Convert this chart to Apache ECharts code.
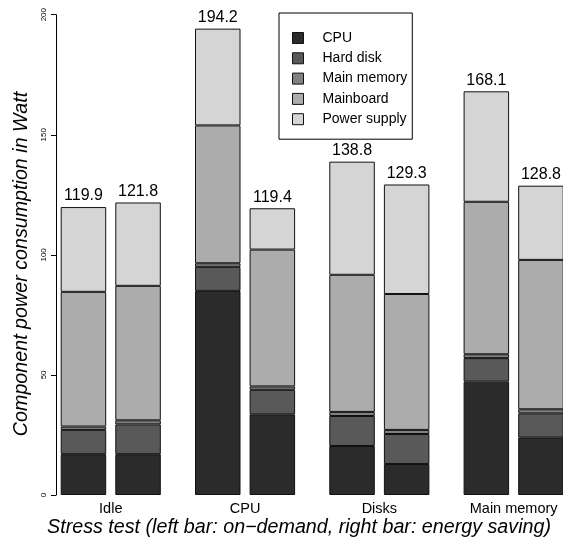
<!DOCTYPE html>
<html>
<head>
<meta charset="utf-8">
<script src="https://cdn.jsdelivr.net/npm/echarts@6/dist/echarts.min.js"></script>
<style>
html,body{margin:0;padding:0;background:#fff;}
#chart{width:563px;height:542px;}
</style>
</head>
<body>
<div id="chart"></div>
<script>
// Categories
const stressTests = ['Idle', 'CPU', 'Disks', 'Main memory'];
const components = ['CPU', 'Hard disk', 'Main memory', 'Mainboard', 'Power supply'];

// Values (Watt) — left bar: on-demand, right bar: energy saving
const cpuOnDemand        = [17.0, 85.0, 20.4, 47.2];
const cpuEnergySaving    = [17.0, 33.6, 12.9, 24.0];
const diskOnDemand       = [10.1, 10.0, 12.5, 9.8];
const diskEnergySaving   = [12.4, 10.2, 12.5, 10.0];
const memOnDemand        = [1.4, 1.5, 1.7, 1.6];
const memEnergySaving    = [1.7, 1.4, 1.7, 1.7];
const boardOnDemand      = [56.1, 57.4, 57.1, 63.5];
const boardEnergySaving  = [56.0, 57.0, 56.6, 62.2];
const psuOnDemand        = [35.3, 40.3, 47.1, 46.0];
const psuEnergySaving    = [34.7, 17.2, 45.6, 30.9];

// Tick labels
const yTicks = [0, 50, 100, 150, 200];

const colors = ['#2b2b2b', '#595959', '#818181', '#acacac', '#d5d5d5'];
const FONT = '"Liberation Sans", Arial, Helvetica, sans-serif';

const onDemand = [cpuOnDemand, diskOnDemand, memOnDemand, boardOnDemand, psuOnDemand];
const energySaving = [cpuEnergySaving, diskEnergySaving, memEnergySaving, boardEnergySaving, psuEnergySaving];

function totals(groups) {
  return stressTests.map((_, i) => groups.reduce((s, arr) => s + arr[i], 0));
}
const totalOnDemand = totals(onDemand);
const totalEnergySaving = totals(energySaving);

function makeSeries(groups, stackName, tot) {
  return groups.map((arr, k) => {
    const s = {
      name: components[k],
      type: 'bar',
      stack: stackName,
      data: arr,
      barWidth: 45.5,
      barGap: '20%',
      itemStyle: { color: colors[k], borderColor: '#111', borderWidth: 1 },
      emphasis: { disabled: true },
      animation: false
    };
    if (k === groups.length - 1) {
      s.label = {
        show: true,
        position: 'top',
        distance: 3,
        fontFamily: FONT,
        fontSize: 16,
        color: '#000',
        formatter: p => tot[p.dataIndex].toFixed(1)
      };
    }
    return s;
  });
}

const chart = echarts.init(document.getElementById('chart'), null, { renderer: 'canvas' });
chart.setOption({
  animation: false,
  backgroundColor: '#fff',
  grid: { left: 43.6, right: -17.8, top: 14.7, bottom: 47, containLabel: false, outerBoundsMode: 'none' },
  xAxis: {
    type: 'category',
    data: stressTests,
    axisLine: { show: false },
    axisTick: { show: false },
    axisLabel: { fontFamily: FONT, fontSize: 14.5, color: '#000', margin: 6 }
  },
  yAxis: {
    type: 'value',
    min: yTicks[0],
    max: yTicks[yTicks.length - 1],
    interval: yTicks[1] - yTicks[0],
    offset: -12.4,
    splitLine: { show: false },
    axisLine: { show: true, lineStyle: { color: '#000', width: 1 } },
    axisTick: { show: true, length: 5, lineStyle: { color: '#000' } },
    axisLabel: { rotate: 90, fontFamily: FONT, fontSize: 8, color: '#000', margin: 8,
      formatter: v => yTicks.includes(v) ? String(v) : '' }
  },
  legend: {
    data: components,
    orient: 'vertical',
    left: 279,
    top: 13,
    padding: [18, 5, 13, 13],
    itemGap: 6.3,
    itemWidth: 11,
    itemHeight: 11,
    icon: 'rect',
    borderColor: '#000',
    borderWidth: 1,
    borderRadius: 0,
    selectedMode: false,
    itemStyle: { borderColor: '#111', borderWidth: 1 },
    textStyle: { fontFamily: FONT, fontSize: 14, color: '#000', padding: [0, 0, 0, 14] }
  },
  graphic: [
    {
      type: 'text',
      x: 299, y: 528,
      style: {
        text: 'Stress test (left bar: on\u2212demand, right bar: energy saving)',
        font: 'italic 19.7px ' + FONT,
        fill: '#000',
        textAlign: 'center',
        textVerticalAlign: 'middle'
      }
    },
    {
      type: 'text',
      x: 22, y: 264,
      rotation: Math.PI / 2,
      style: {
        text: 'Component power consumption in Watt',
        font: 'italic 19.7px ' + FONT,
        fill: '#000',
        textAlign: 'center',
        textVerticalAlign: 'middle'
      }
    }
  ],
  series: [
    ...makeSeries(onDemand, 'onDemand', totalOnDemand),
    ...makeSeries(energySaving, 'energySaving', totalEnergySaving)
  ]
});
</script>
</body>
</html>
